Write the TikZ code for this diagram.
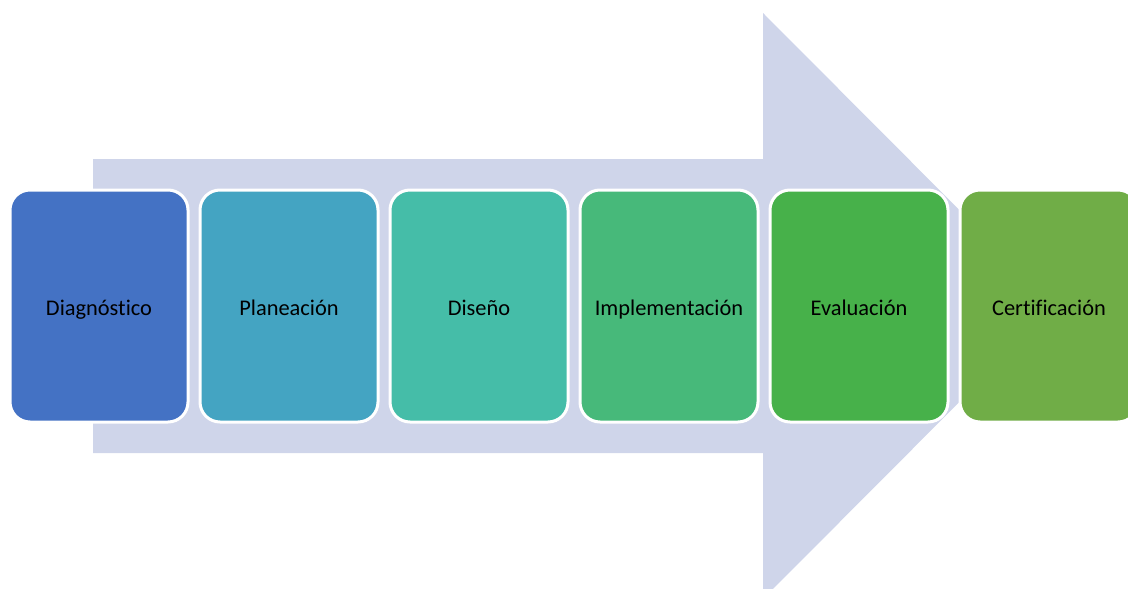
\documentclass[tikz,border=0pt]{standalone}
\usepackage{fontspec}
\setmainfont{Carlito}[Ligatures=NoCommon]
\definecolor{arrowc}{HTML}{CFD5EA}
\definecolor{c1}{HTML}{4472C4}
\definecolor{c2}{HTML}{44A4C2}
\definecolor{c3}{HTML}{45BDA8}
\definecolor{c4}{HTML}{47B97A}
\definecolor{c5}{HTML}{47B14A}
\definecolor{c6}{HTML}{70AD47}
\tikzset{
  stagebox/.style={draw=white, line width=3pt, rounded corners=20pt, minimum width=178pt, minimum height=232pt, inner sep=0pt, text height=24pt, text depth=5pt, font=\fontsize{22.4}{26}\selectfont, text=black}
}
\begin{document}
\begin{tikzpicture}[x=1pt,y=-1pt]
\useasboundingbox (0,0) rectangle (1128,589);
\clip (0,0) rectangle (1128,589);
\fill[arrowc] (93,159) -- (763,159) -- (763,13) -- (1055,306) -- (763,599) -- (763,453) -- (93,453) -- cycle;
\node[stagebox, fill=c1] (s1) at (99,306) {Diagnóstico};
\node[stagebox, fill=c2] (s2) at (289,306) {Planeación};
\node[stagebox, fill=c3] (s3) at (479,306) {Diseño};
\node[stagebox, fill=c4] (s4) at (669,306) {Implementación};
\node[stagebox, fill=c5] (s5) at (859,306) {Evaluación};
\node[stagebox, fill=c6] (s6) at (1049,306) {Certificación};
\end{tikzpicture}
\end{document}
